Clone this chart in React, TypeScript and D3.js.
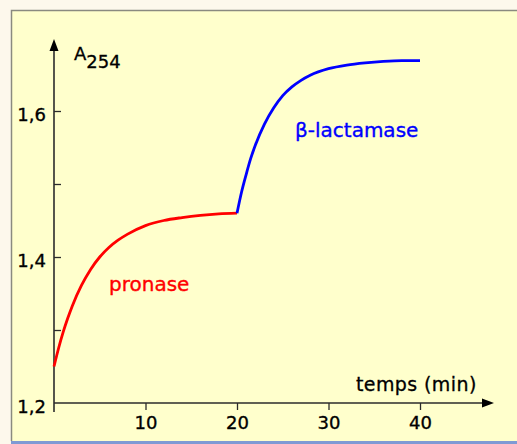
import * as d3 from 'd3'
import { useEffect, useRef } from 'react'

// pronase phase (0-20 min) and beta-lactamase phase (20-40 min)
const pronaseTime = [0, 0.5, 1, 1.5, 2, 3, 4, 5, 6, 7, 8, 10, 12, 14, 16, 18, 20]
const pronaseA254 = [1.25, 1.275, 1.297, 1.316, 1.333, 1.361, 1.383, 1.4, 1.413, 1.423, 1.431, 1.443, 1.45, 1.454, 1.457, 1.459, 1.46]
const lactamaseTime = [20, 20.5, 21, 21.5, 22, 23, 24, 25, 26, 27, 28, 30, 32, 34, 36, 38, 40]
const lactamaseA254 = [1.46, 1.489, 1.513, 1.535, 1.553, 1.582, 1.604, 1.621, 1.633, 1.642, 1.649, 1.658, 1.663, 1.666, 1.668, 1.669, 1.669]

const xTicks = [10, 20, 30, 40]
const yTicks = [1.2, 1.3, 1.4, 1.5, 1.6]
const yLabelled = [1.2, 1.4, 1.6]

const FONT = '"DejaVu Sans", Verdana, sans-serif'

export default function App() {
  const ref = useRef<HTMLDivElement | null>(null)

  useEffect(() => {
    const width = 517
    const height = 444

    const x = d3.scaleLinear().domain([0, 40]).range([54, 420])
    const y = d3.scaleLinear().domain([1.2, 1.6]).range([403, 111])

    const svg = d3
      .create('svg')
      .attr('width', width)
      .attr('height', height)
      .attr('viewBox', [0, 0, width, height])
      .style('display', 'block')
      .style('font-family', FONT)

    // page + panel background
    svg.append('rect').attr('width', width).attr('height', height).attr('fill', '#fdf8ec')
    svg.append('rect').attr('x', 11).attr('y', 10).attr('width', width - 11).attr('height', 431).attr('fill', '#ffffcc')
    svg.append('path').attr('d', `M11.5,441V10.5H${width}`).attr('fill', 'none').attr('stroke', '#8a8a80').attr('stroke-width', 1.5)
    svg.append('rect').attr('x', 11).attr('y', 441).attr('width', width - 11).attr('height', 3).attr('fill', '#7f9ad4')

    const axisColor = '#2b2b2b'

    // Y axis
    const yAxis = svg
      .append('g')
      .attr('transform', `translate(${x(0)},0)`)
      .call(
        d3
          .axisLeft(y)
          .tickValues(yTicks)
          .tickSizeInner(-7)
          .tickSizeOuter(0)
          .tickPadding(8)
          .tickFormat((d) =>
            yLabelled.some((v) => Math.abs(v - +d) < 1e-9) ? d3.format('.1f')(+d).replace('.', ',') : ''
          )
      )
    yAxis.select('.domain').remove()
    yAxis.selectAll('line').attr('stroke', axisColor).attr('stroke-width', 1.3)
    yAxis
      .selectAll('text')
      .attr('font-size', 18)
      .attr('font-family', FONT)
      .attr('fill', '#000')
      .attr('stroke', '#000')
      .attr('stroke-width', 0.35)
      .attr('dy', '0.55em')
    yAxis.selectAll('.tick').filter((d) => +d === 1.2).select('line').remove()

    // X axis
    const xAxis = svg
      .append('g')
      .attr('transform', `translate(0,${y(1.2)})`)
      .call(d3.axisBottom(x).tickValues(xTicks).tickSizeInner(7).tickSizeOuter(0).tickPadding(6).tickFormat(d3.format('d')))
    xAxis.select('.domain').remove()
    xAxis.selectAll('line').attr('stroke', axisColor).attr('stroke-width', 1.3)
    xAxis
      .selectAll('text')
      .attr('font-size', 18)
      .attr('font-family', FONT)
      .attr('fill', '#000')
      .attr('stroke', '#000')
      .attr('stroke-width', 0.35)

    // axis lines with arrows
    svg
      .append('line')
      .attr('x1', x(0)).attr('x2', x(0))
      .attr('y1', y(1.2) + 9).attr('y2', 48)
      .attr('stroke', axisColor).attr('stroke-width', 1.6)
    svg.append('path').attr('d', `M${x(0)},39L${x(0) - 4.5},51L${x(0) + 4.5},51Z`).attr('fill', '#000')
    svg
      .append('line')
      .attr('x1', x(0)).attr('x2', 484)
      .attr('y1', y(1.2)).attr('y2', y(1.2))
      .attr('stroke', axisColor).attr('stroke-width', 1.6)
    svg.append('path').attr('d', `M494,${y(1.2)}L482,${y(1.2) - 4.5}L482,${y(1.2) + 4.5}Z`).attr('fill', '#000')

    // curves
    const line = d3
      .line<[number, number]>()
      .x((d) => x(d[0]))
      .y((d) => y(d[1]))
      .curve(d3.curveMonotoneX)

    svg
      .append('path')
      .datum(pronaseTime.map((t, i) => [t, pronaseA254[i]] as [number, number]))
      .attr('d', line)
      .attr('fill', 'none')
      .attr('stroke', '#ff0000')
      .attr('stroke-width', 2.8)

    svg
      .append('path')
      .datum(lactamaseTime.map((t, i) => [t, lactamaseA254[i]] as [number, number]))
      .attr('d', line)
      .attr('fill', 'none')
      .attr('stroke', '#0000ff')
      .attr('stroke-width', 2.8)

    // labels
    svg
      .append('text')
      .attr('x', 109).attr('y', 291)
      .attr('font-size', 20)
      .attr('fill', '#ff0000').attr('stroke', '#ff0000').attr('stroke-width', 0.35)
      .text('pronase')
    svg
      .append('text')
      .attr('x', 295).attr('y', 137)
      .attr('font-size', 20)
      .attr('fill', '#0000ff').attr('stroke', '#0000ff').attr('stroke-width', 0.35)
      .text('β-lactamase')
    svg
      .append('text')
      .attr('x', 356).attr('y', 391)
      .attr('font-size', 19)
      .attr('letter-spacing', 0.4)
      .attr('fill', '#000').attr('stroke', '#000').attr('stroke-width', 0.3)
      .text('temps (min)')

    const aLabel = svg
      .append('text')
      .attr('x', 74).attr('y', 60)
      .attr('font-size', 18)
      .attr('fill', '#000').attr('stroke', '#000').attr('stroke-width', 0.3)
    aLabel.append('tspan').text('A')
    aLabel.append('tspan').attr('dy', 8).text('254')

    if (ref.current) {
      ref.current.innerHTML = ''
      ref.current.appendChild(svg.node()!)
    }
  }, [])

  return <div ref={ref} style={{ position: 'absolute', left: 0, top: 0, width: 517, height: 444 }} />
}
